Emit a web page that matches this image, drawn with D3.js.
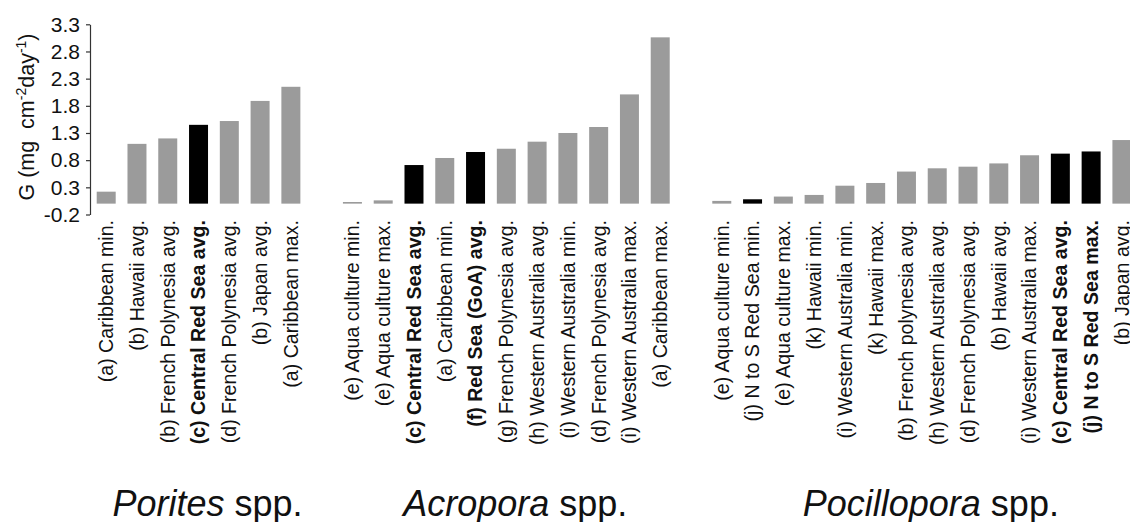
<!DOCTYPE html>
<html>
<head>
<meta charset="utf-8">
<script src="https://cdn.jsdelivr.net/npm/d3@7"></script>
<style>
  html, body { margin: 0; padding: 0; background: #fff; }
  svg { display: block; font-family: "Liberation Sans", Arial, sans-serif; }
</style>
</head>
<body>
<svg id="chart" width="1130" height="522"></svg>
<script>
// Calcification rates G (mg cm^-2 day^-1) by genus and region
const poritesLabels = [
  "(a) Caribbean min.", "(b) Hawaii avg.", "(b) French Polynesia avg.",
  "(c) Central Red Sea avg.", "(d) French Polynesia avg.", "(b) Japan avg.",
  "(a) Caribbean max."
];
const poritesValues = [0.22, 1.10, 1.20, 1.45, 1.52, 1.89, 2.15];
const poritesDark = [0, 0, 0, 1, 0, 0, 0];
const poritesBold = [0, 0, 0, 1, 0, 0, 0];

const acroporaLabels = [
  "(e) Aqua culture min.", "(e) Aqua culture max.", "(c) Central Red Sea avg.",
  "(a) Caribbean min.", "(f) Red Sea (GoA) avg.", "(g) French Polynesia avg.",
  "(h) Western Australia avg.", "(i) Western Australia min.",
  "(d) French Polynesia avg.", "(i) Western Australia max.", "(a) Caribbean max."
];
const acroporaValues = [0.03, 0.06, 0.71, 0.84, 0.95, 1.01, 1.14, 1.30, 1.41, 2.01, 3.06];
const acroporaDark = [0, 0, 1, 0, 1, 0, 0, 0, 0, 0, 0];
const acroporaBold = [0, 0, 1, 0, 1, 0, 0, 0, 0, 0, 0];

const pocilloporaLabels = [
  "(e) Aqua culture min.", "(j) N to S Red Sea min.", "(e) Aqua culture max.",
  "(k) Hawaii min.", "(i) Western Australia min.", "(k) Hawaii max.",
  "(b) French polynesia avg.", "(h) Western Australia avg.",
  "(d) French Polynesia avg.", "(b) Hawaii avg.", "(i) Western Australia max.",
  "(c) Central Red Sea avg.", "(j) N to S Red Sea max.", "(b) Japan avg."
];
const pocilloporaValues = [0.05, 0.08, 0.13, 0.16, 0.33, 0.38, 0.59, 0.65, 0.68, 0.74, 0.89, 0.92, 0.96, 1.17];
const pocilloporaDark = [0, 1, 0, 0, 0, 0, 0, 0, 0, 0, 0, 1, 1, 0];
const pocilloporaBold = [0, 0, 0, 0, 0, 0, 0, 0, 0, 0, 0, 1, 1, 0];

const genusNames = ["Porites", "Acropora", "Pocillopora"];

const yTicks = [-0.2, 0.3, 0.8, 1.3, 1.8, 2.3, 2.8, 3.3];
const yTickLabels = ["-0.2", "0.3", "0.8", "1.3", "1.8", "2.3", "2.8", "3.3"];

// Assemble bars, with one empty slot between genus groups
const groups = [
  { genus: genusNames[0], labels: poritesLabels, values: poritesValues, dark: poritesDark, bold: poritesBold },
  { genus: genusNames[1], labels: acroporaLabels, values: acroporaValues, dark: acroporaDark, bold: acroporaBold },
  { genus: genusNames[2], labels: pocilloporaLabels, values: pocilloporaValues, dark: pocilloporaDark, bold: pocilloporaBold }
];

const bars = [];
const slots = [];
groups.forEach((g, gi) => {
  if (gi > 0) slots.push("gap" + gi);
  g.keys = [];
  g.labels.forEach((lab, i) => {
    const key = g.genus + "|" + i;
    slots.push(key);
    g.keys.push(key);
    bars.push({ key, label: lab, value: g.values[i], dark: !!g.dark[i], bold: !!g.bold[i] });
  });
});

const svg = d3.select("#chart");

const x = d3.scaleBand()
  .domain(slots)
  .range([96.7, 1131.4])
  .paddingInner(0.383)
  .paddingOuter(0);

const y = d3.scaleLinear()
  .domain([-0.2, 3.3])
  .range([214.5, 24.3]);

// Bars
svg.append("g")
  .selectAll("rect")
  .data(bars)
  .join("rect")
  .attr("x", d => x(d.key))
  .attr("width", x.bandwidth())
  .attr("y", d => y(Math.max(0, d.value)))
  .attr("height", d => Math.abs(y(d.value) - y(0)))
  .attr("fill", d => d.dark ? "#000000" : "#9b9b9b");

// Y axis: line and ticks from d3.axisLeft, tick labels from the label list
const yAxis = d3.axisLeft(y)
  .tickValues(yTicks)
  .tickFormat((d, i) => yTickLabels[i])
  .tickSize(4)
  .tickSizeOuter(0)
  .tickPadding(6);

const ya = svg.append("g")
  .attr("transform", "translate(90,0)")
  .call(yAxis);
ya.attr("font-size", null).attr("font-family", null);
ya.select(".domain").attr("stroke", "#333").attr("stroke-width", 1.2);
ya.selectAll(".tick line").attr("stroke", "#333").attr("stroke-width", 1.2);
ya.selectAll(".tick text")
  .attr("fill", "#111")
  .attr("style", "font-size:21px;font-family:'Liberation Sans',Arial,sans-serif");

// Y axis title with superscripts
const yTitle = svg.append("text")
  .attr("transform", "translate(33.5,117) rotate(-90)")
  .attr("text-anchor", "middle")
  .attr("fill", "#111")
  .attr("font-size", 21.5);
yTitle.append("tspan").text("G (mg\u00a0\u00a0cm");
yTitle.append("tspan").attr("dy", -8).attr("font-size", 14).text("-2");
yTitle.append("tspan").attr("dy", 8).text("day");
yTitle.append("tspan").attr("dy", -8).attr("font-size", 14).text("-1");
yTitle.append("tspan").attr("dy", 8).text(")");

// Category labels, rotated
svg.append("g")
  .selectAll("text")
  .data(bars)
  .join("text")
  .attr("transform", d => `translate(${x(d.key) + x.bandwidth() / 2},220) rotate(-90)`)
  .attr("text-anchor", "end")
  .attr("dy", "0.35em")
  .attr("fill", "#111")
  .attr("font-size", 19.6)
  .attr("font-weight", d => d.bold ? "bold" : "normal")
  .text(d => d.label);

// Genus titles under each group
groups.forEach(g => {
  const first = x(g.keys[0]);
  const last = x(g.keys[g.keys.length - 1]) + x.bandwidth();
  const t = svg.append("text")
    .attr("x", (first + last) / 2 + 9)
    .attr("y", 516)
    .attr("text-anchor", "middle")
    .attr("fill", "#111")
    .attr("font-size", 36);
  t.append("tspan").attr("font-style", "italic").text(g.genus);
  t.append("tspan").text(" spp.");
});
</script>
</body>
</html>
